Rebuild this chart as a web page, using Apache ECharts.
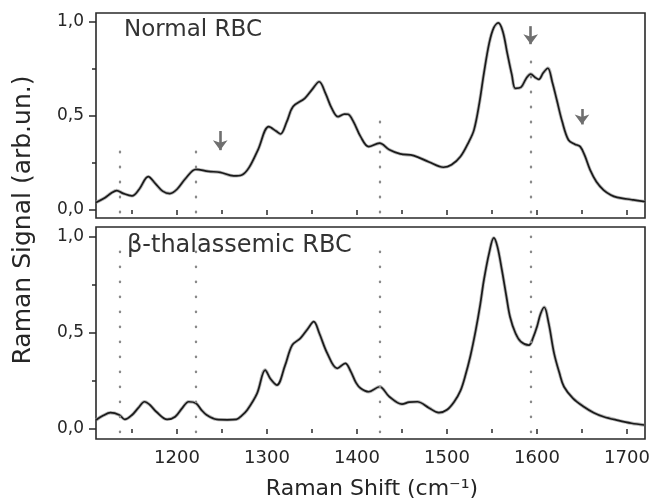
<!DOCTYPE html>
<html><head><meta charset="utf-8">
<script src="https://cdn.jsdelivr.net/npm/echarts@6/dist/echarts.min.js"></script>
<style>html,body{margin:0;padding:0;background:#fff}#c{width:653px;height:500px}</style>
</head><body><div id="c"></div>
<script>
// ---- data (Raman shift in cm-1, normalized signal) ----
const normalShift = [1110,1120,1127,1133,1140,1150,1158,1168,1176,1184,1192,1200,1210,1221,1235,1248,1263,1272,1280,1290,1302,1310,1315,1322,1329,1342,1350,1358,1365,1372,1379,1386,1390,1396,1404,1413,1425,1436,1448,1463,1480,1496,1505,1515,1524,1530,1536,1541,1547,1552,1557,1562,1567,1572,1576,1582,1588,1593,1598,1602,1607,1612,1617,1622,1628,1635,1642,1648,1653,1659,1666,1674,1682,1689,1700,1707,1720];
const normalSignal = [0.040,0.065,0.090,0.103,0.088,0.075,0.110,0.177,0.140,0.100,0.087,0.110,0.170,0.216,0.205,0.200,0.181,0.186,0.225,0.320,0.443,0.420,0.404,0.470,0.550,0.594,0.640,0.682,0.620,0.540,0.496,0.510,0.509,0.470,0.390,0.337,0.355,0.320,0.298,0.289,0.255,0.227,0.240,0.284,0.360,0.426,0.570,0.727,0.890,0.970,0.995,0.950,0.833,0.720,0.647,0.652,0.700,0.723,0.705,0.695,0.730,0.754,0.680,0.585,0.470,0.372,0.350,0.337,0.290,0.213,0.150,0.106,0.080,0.067,0.058,0.053,0.044];
const thalShift = [1110,1118,1126,1136,1142,1150,1157,1164,1170,1177,1189,1198,1206,1213,1221,1227,1233,1244,1256,1266,1272,1278,1289,1298,1304,1311,1320,1328,1337,1345,1352,1358,1367,1378,1387,1393,1399,1404,1413,1425,1436,1450,1458,1467,1480,1491,1500,1508,1515,1520,1526,1532,1537,1541,1547,1552,1556,1561,1566,1570,1576,1582,1591,1596,1600,1604,1608,1613,1619,1625,1630,1640,1652,1663,1674,1690,1705,1719];
const thalSignal = [0.047,0.070,0.085,0.073,0.050,0.073,0.110,0.142,0.125,0.090,0.050,0.064,0.110,0.142,0.134,0.100,0.073,0.050,0.048,0.050,0.070,0.099,0.186,0.307,0.260,0.229,0.330,0.437,0.472,0.520,0.559,0.500,0.394,0.316,0.342,0.300,0.240,0.212,0.194,0.220,0.168,0.130,0.140,0.142,0.110,0.085,0.100,0.142,0.200,0.272,0.380,0.516,0.650,0.776,0.920,0.995,0.950,0.828,0.690,0.585,0.500,0.455,0.437,0.480,0.533,0.600,0.634,0.550,0.394,0.290,0.220,0.160,0.116,0.085,0.064,0.045,0.030,0.021];

// annotation positions (data units)
const markerShifts = [1136, 1221, 1425, 1593];
const normalMarkerTops = [0.32, 0.32, 0.54, 0.80];
const thalMarkerTops = [0.985, 0.985, 0.985, 1.01];
const arrowShifts = [1248, 1593, 1650];
const arrowTops = [0.42, 0.978, 0.537];
const arrowTips = [0.318, 0.882, 0.455];

// tick labels
const xMajorTicks = [1200, 1300, 1400, 1500, 1600, 1700];
const xMinorTicks = [1150, 1250, 1350, 1450, 1550, 1650];
const yMajorTicks = [0, 0.5, 1];
const yTickLabels = ['0,0', '0,5', '1,0'];
const yMinorTicks = [0.25, 0.75];

const panelLabels = ['Normal RBC', 'β-thalassemic RBC'];
const xTitle = 'Raman Shift (cm⁻¹)';
const yTitle = 'Raman Signal (arb.un.)';

// ---- chart ----
const FONT = 'DejaVu Sans';
const TXT = '#262626';
const zip = (xs, ys) => xs.map((x, i) => [x, ys[i]]);

function xAxis(grid, ticks, major, labels) {
  return {
    type: 'value', gridIndex: grid, position: 'bottom', min: 1110, max: 1720,
    axisLine: { show: false }, splitLine: { show: false },
    axisTick: { show: true, inside: false, length: major ? 5 : 4, customValues: ticks, lineStyle: { color: '#2a2a2a', width: 1.5 } },
    axisLabel: labels ? { show: true, customValues: ticks, margin: 10, fontFamily: FONT, fontSize: 18, color: TXT,
      formatter: v => String(Math.round(v)) } : { show: false }
  };
}
function yAxis(grid, ticks, major, lo, hi) {
  return {
    type: 'value', gridIndex: grid, position: 'left', min: lo, max: hi,
    axisLine: { show: false }, splitLine: { show: false },
    axisTick: { show: true, inside: false, length: major ? 7 : 4, customValues: ticks, lineStyle: { color: '#2a2a2a', width: 1.5 } },
    axisLabel: major ? { show: true, customValues: ticks, margin: 12, fontFamily: FONT, fontSize: 17, color: TXT,
      formatter: v => yTickLabels[yMajorTicks.findIndex(t => Math.abs(t - v) < 1e-6)] } : { show: false }
  };
}
function markers(tops, bottom) {
  return markerShifts.map((x, i) => [{ coord: [x, bottom] }, { coord: [x, tops[i]] }]);
}
const dotStyle = { type: [0.5, 14.5], color: '#8a8a8a', width: 2.4, cap: 'round' };

const chart = echarts.init(document.getElementById('c'), null, { renderer: 'canvas' });
chart.setOption({
  animation: false,
  backgroundColor: '#fff',
  grid: [
    { left: 96, top: 13, width: 549, height: 205, show: true, borderColor: '#2a2a2a', borderWidth: 1.6, backgroundColor: 'transparent' },
    { left: 96, top: 227, width: 549, height: 212, show: true, borderColor: '#2a2a2a', borderWidth: 1.6, backgroundColor: 'transparent' }
  ],
  xAxis: [
    xAxis(0, xMajorTicks, true, false),
    xAxis(0, xMinorTicks, false, false),
    xAxis(1, xMajorTicks, true, true),
    xAxis(1, xMinorTicks, false, false)
  ],
  yAxis: [
    yAxis(0, yMajorTicks, true, -0.043, 1.048),
    yAxis(0, yMinorTicks, false, -0.043, 1.048),
    yAxis(1, yMajorTicks, true, -0.052, 1.052),
    yAxis(1, yMinorTicks, false, -0.052, 1.052)
  ],
  series: [
    { type: 'line', xAxisIndex: 0, yAxisIndex: 0, data: zip(normalShift, normalSignal), showSymbol: false, smooth: 0.35,
      lineStyle: { color: '#9a9a9a', width: 3.4, opacity: 0.7 }, silent: true,
      markLine: { silent: true, symbol: ['none', 'arrow'], symbolSize: [11, 10], label: { show: false },
        lineStyle: { type: 'solid', color: '#6f6f6f', width: 2.6 },
        data: arrowShifts.map((x, i) => [{ coord: [x, arrowTops[i]] }, { coord: [x, arrowTips[i]] }]) } },
    { type: 'line', xAxisIndex: 0, yAxisIndex: 0, data: zip(normalShift, normalSignal), showSymbol: false, smooth: 0.35,
      lineStyle: { color: '#1a1a1a', width: 1.7 }, silent: true, z: 3,
      markLine: { silent: true, symbol: 'none', label: { show: false }, lineStyle: dotStyle, data: markers(normalMarkerTops, -0.012) } },
    { type: 'line', xAxisIndex: 2, yAxisIndex: 2, data: zip(thalShift, thalSignal), showSymbol: false, smooth: 0.35,
      lineStyle: { color: '#9a9a9a', width: 3.4, opacity: 0.7 }, silent: true },
    { type: 'line', xAxisIndex: 2, yAxisIndex: 2, data: zip(thalShift, thalSignal), showSymbol: false, smooth: 0.35,
      lineStyle: { color: '#1a1a1a', width: 1.7 }, silent: true, z: 3,
      markLine: { silent: true, symbol: 'none', label: { show: false }, lineStyle: dotStyle, data: markers(thalMarkerTops, -0.016) } }
  ],
  graphic: [
    { type: 'text', left: 124, top: 19, style: { text: panelLabels[0], fontFamily: FONT, fontSize: 23, fill: '#333' } },
    { type: 'text', left: 127, top: 234, style: { text: panelLabels[1], fontFamily: FONT, fontSize: 24, fill: '#333' } },
    { type: 'text', x: 372, y: 489, style: { text: xTitle, fontFamily: FONT, fontSize: 22, fill: TXT, align: 'center', verticalAlign: 'middle' } },
    { type: 'text', x: 23, y: 220, rotation: Math.PI / 2, style: { text: yTitle, fontFamily: FONT, fontSize: 25, fill: TXT, align: 'center', verticalAlign: 'middle' } }
  ]
});
</script>
</body></html>
